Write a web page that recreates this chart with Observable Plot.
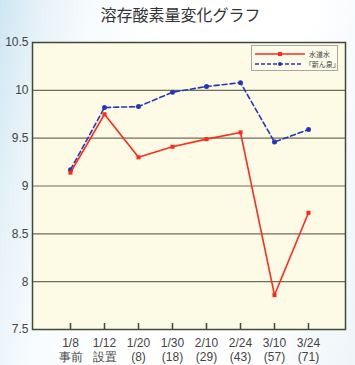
<!DOCTYPE html>
<html>
<head>
<meta charset="utf-8">
<script src="https://cdn.jsdelivr.net/npm/d3@7"></script>
<script src="https://cdn.jsdelivr.net/npm/@observablehq/plot@0.6"></script>
<style>
  html, body { margin: 0; padding: 0; }
  body {
    width: 355px; height: 365px; overflow: hidden; position: relative;
    background: linear-gradient(100deg, #cfe6f2 0%, #e6f2f8 10%, #f7fbfd 22%, #ffffff 40%, #ffffff 75%, #eef5f9 100%);
    font-family: "Liberation Sans", Arial, sans-serif;
  }
  #title {
    height: 30px; line-height: 28px; text-align: center; padding-left: 6px;
    font-family: "Noto Sans CJK JP", sans-serif; font-size: 16px; color: #333;
  }
  #legend {
    position: absolute; left: 251px; top: 45px; width: 87px; height: 26px;
    border: 1px solid #a8a8a0; background: #fdfcea; box-sizing: border-box;
    font-family: "Noto Sans CJK JP", sans-serif; font-size: 7px; color: #444;
  }
  #legend .row { position: absolute; left: 3px; height: 10px; display: flex; align-items: center; }
  #legend svg { display: block; margin-right: 4px; }
</style>
</head>
<body>
<div id="title">溶存酸素量変化グラフ</div>
<div id="chart"></div>
<div id="legend"></div>
<script>
const dates = ["1/8", "1/12", "1/20", "1/30", "2/10", "2/24", "3/10", "3/24"];
const subLabels = ["事前", "設置", "(8)", "(18)", "(29)", "(43)", "(57)", "(71)"];
const seriesNames = ["水道水", "「新ん泉」"];
const tapWater = [9.14, 9.75, 9.30, 9.41, 9.49, 9.56, 7.86, 8.72];
const shinnsen = [9.17, 9.82, 9.83, 9.98, 10.04, 10.08, 9.46, 9.59];
const yTicks = [7.5, 8, 8.5, 9, 9.5, 10, 10.5];

const red = "#ff2a1a";
const blue = "#2238b8";

const tapData = dates.map((d, i) => ({date: d, value: tapWater[i]}));
const shinData = dates.map((d, i) => ({date: d, value: shinnsen[i]}));

const chart = Plot.plot({
  width: 355,
  height: 335,
  marginTop: 12,
  marginBottom: 36,
  marginLeft: 32,
  marginRight: 10,
  style: {background: "transparent", fontFamily: "Liberation Sans, Arial, sans-serif", fontSize: "12px", color: "#444"},
  x: {type: "point", domain: dates, padding: 1},
  y: {domain: [7.5, 10.5]},
  marks: [
    Plot.frame({fill: "#fdfbe6", stroke: null}),
    Plot.gridY(yTicks, {stroke: "#6e6e58", strokeOpacity: 1, strokeWidth: 1.2}),
    Plot.frame({stroke: "#3f4a3c", strokeWidth: 1.5}),
    Plot.axisY({ticks: yTicks, tickSize: 0, tickPadding: 4, tickFormat: d => String(d), label: null, fill: "#444", fontSize: 12}),
    Plot.axisX({tickSize: -6, tickPadding: 13, stroke: "#3f4a3c", strokeWidth: 1.5, label: null, fill: "#444", fontSize: 12, lineHeight: 1.2,
      tickFormat: (d, i) => d + "\n" + subLabels[dates.indexOf(d)]}),
    Plot.line(shinData, {x: "date", y: "value", stroke: blue, strokeWidth: 1.6, strokeDasharray: "5,3"}),
    Plot.dot(shinData, {x: "date", y: "value", r: 2.5, fill: blue, stroke: null}),
    Plot.line(tapData, {x: "date", y: "value", stroke: red, strokeWidth: 1.6}),
    Plot.dot(tapData, {x: "date", y: "value", symbol: "square", r: 2.3, fill: red, stroke: null})
  ]
});
document.getElementById("chart").appendChild(chart);

// legend
const legend = document.getElementById("legend");
const styles = [
  {stroke: red, dash: null, sym: "square"},
  {stroke: blue, dash: "4,2", sym: "circle"}
];
seriesNames.forEach((name, i) => {
  const row = document.createElement("div");
  row.className = "row";
  row.style.top = (i === 0 ? 3 : 13) + "px";
  const s = styles[i];
  const marker = s.sym === "square"
    ? `<rect x="23" y="3" width="4" height="4" fill="${s.stroke}"/>`
    : `<circle cx="25" cy="5" r="2" fill="${s.stroke}"/>`;
  row.innerHTML = `<svg width="50" height="10"><line x1="0" y1="5" x2="50" y2="5" stroke="${s.stroke}" stroke-width="1.3" ${s.dash ? `stroke-dasharray="${s.dash}"` : ""}/>${marker}</svg><span>${name}</span>`;
  legend.appendChild(row);
});
</script>
</body>
</html>
